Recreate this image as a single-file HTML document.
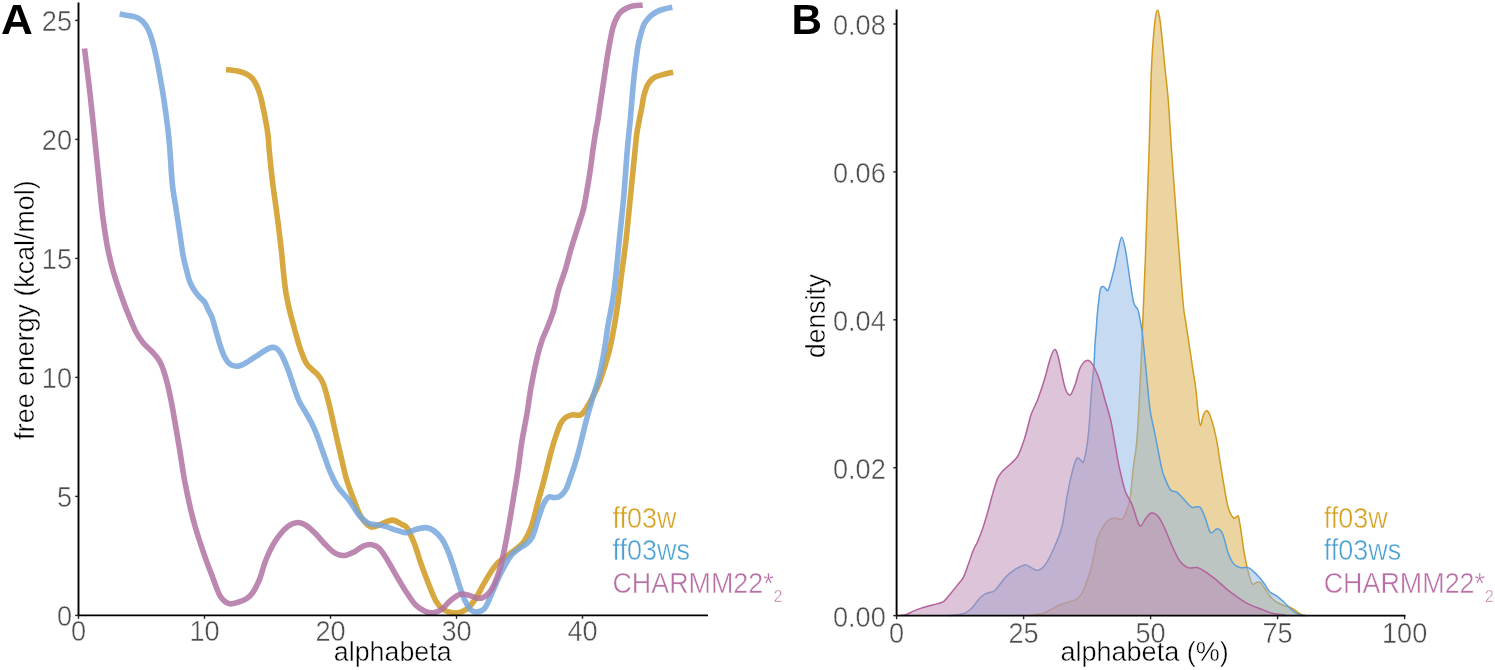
<!DOCTYPE html>
<html><head><meta charset="utf-8"><title>Free energy and density</title>
<style>html,body{margin:0;padding:0;background:#fff;width:1495px;height:670px;overflow:hidden}svg{display:block;will-change:transform}</style>
</head><body>
<svg width="1495" height="670" viewBox="0 0 1495 670">
<rect width="1495" height="670" fill="#ffffff"/>
<path d="M226.0,69.6 C227.9,69.8 234.0,70.3 237.4,71.0 C240.8,71.7 243.9,72.7 246.4,73.9 C248.9,75.1 250.6,76.4 252.3,78.4 C254.0,80.4 255.4,82.8 256.8,85.8 C258.2,88.8 259.4,92.3 260.5,96.3 C261.6,100.3 262.6,105.5 263.5,109.7 C264.4,113.9 265.1,117.4 265.8,121.6 C266.6,125.8 267.4,130.4 268.0,135.1 C268.6,139.8 268.5,142.5 269.2,150.0 C269.9,157.5 271.3,171.3 272.3,180.0 C273.3,188.7 274.3,194.8 275.3,202.2 C276.3,209.6 277.3,216.6 278.3,224.6 C279.3,232.6 280.4,242.0 281.3,250.0 C282.2,258.0 282.8,265.4 283.5,272.4 C284.2,279.4 284.9,286.1 285.8,291.8 C286.7,297.5 287.6,301.7 288.7,306.7 C289.8,311.7 291.2,316.9 292.5,321.6 C293.8,326.3 294.8,330.4 296.2,335.1 C297.6,339.8 298.9,345.2 300.7,350.0 C302.4,354.8 304.7,360.6 306.7,363.9 C308.7,367.2 310.6,367.9 312.6,369.9 C314.6,371.9 316.9,373.6 318.6,375.8 C320.4,378.0 321.7,380.1 323.1,383.3 C324.5,386.5 325.7,391.2 326.8,395.2 C327.9,399.2 328.7,402.5 329.8,407.2 C330.9,411.9 332.4,418.6 333.5,423.6 C334.6,428.6 335.1,430.9 336.5,437.0 C337.9,443.1 340.1,452.8 341.8,459.9 C343.5,467.0 344.6,472.7 346.6,479.5 C348.7,486.3 351.7,494.3 354.1,500.6 C356.6,506.9 358.5,512.9 361.3,517.3 C364.1,521.7 367.6,525.6 370.8,526.8 C374.0,528.0 376.8,525.5 380.4,524.4 C384.0,523.3 388.7,520.1 392.3,520.1 C395.9,520.1 399.3,523.1 401.8,524.4 C404.3,525.7 405.1,524.9 407.2,528.1 C409.3,531.3 411.9,537.4 414.3,543.6 C416.7,549.8 419.1,558.3 421.5,565.1 C423.9,571.9 426.3,578.2 428.7,584.2 C431.1,590.2 433.4,596.7 435.8,600.9 C438.2,605.1 440.2,607.3 443.0,609.3 C445.8,611.3 449.3,612.4 452.5,612.8 C455.7,613.2 459.3,612.6 462.1,611.6 C464.9,610.6 466.9,609.3 469.3,606.9 C471.7,604.5 474.0,601.1 476.4,597.3 C478.8,593.5 481.2,588.4 483.6,584.2 C486.0,580.0 488.3,575.8 490.7,572.2 C493.1,568.6 495.1,565.5 497.9,562.7 C500.7,559.9 504.3,557.9 507.5,555.5 C510.7,553.1 514.2,550.8 517.0,548.4 C519.8,546.0 521.8,544.8 524.2,541.2 C526.6,537.6 528.9,533.8 531.3,526.9 C533.7,520.0 536.5,507.2 538.5,500.0 C540.5,492.8 541.6,489.0 543.0,483.9 C544.4,478.8 545.4,474.4 546.6,469.6 C547.8,464.8 549.0,459.7 550.2,455.2 C551.4,450.7 552.5,446.6 553.7,442.7 C554.9,438.8 556.1,435.2 557.3,431.9 C558.5,428.6 559.5,425.4 560.9,423.0 C562.2,420.6 563.6,419.0 565.4,417.6 C567.2,416.2 569.1,415.3 571.6,414.9 C574.1,414.4 578.2,415.9 580.6,414.9 C583.0,413.9 583.9,411.8 586.0,408.7 C588.1,405.6 590.7,400.9 593.1,396.1 C595.5,391.3 597.6,387.6 600.3,380.0 C603.0,372.4 606.9,359.8 609.3,350.7 C611.6,341.6 612.9,333.8 614.4,325.4 C615.9,316.9 617.1,308.7 618.3,300.0 C619.5,291.3 620.4,283.2 621.7,273.1 C623.0,263.0 624.6,252.6 626.1,239.5 C627.6,226.4 629.1,209.7 630.6,194.8 C632.1,179.9 634.1,160.1 635.1,150.0 C636.1,139.9 636.0,139.6 636.7,134.3 C637.5,129.0 638.8,122.5 639.6,118.0 C640.5,113.5 641.1,111.0 641.8,107.5 C642.5,104.0 642.9,100.0 643.6,96.7 C644.4,93.4 645.2,90.3 646.3,87.8 C647.3,85.3 648.4,83.3 649.9,81.5 C651.4,79.7 652.8,78.2 655.2,77.0 C657.6,75.8 661.2,75.1 664.2,74.3 C667.2,73.5 671.6,72.6 673.1,72.3" fill="none" stroke="#cf991d" stroke-width="5.6" stroke-opacity="0.85" stroke-linejoin="round" stroke-linecap="butt"/>

<path d="M119.6,14.1 C122.2,14.6 131.5,15.7 135.3,16.9 C139.1,18.1 140.3,19.1 142.5,21.3 C144.7,23.5 146.6,26.1 148.4,29.9 C150.2,33.7 151.8,39.2 153.2,44.2 C154.6,49.2 155.6,53.9 156.8,59.7 C158.0,65.5 159.2,72.0 160.4,78.8 C161.6,85.6 162.8,92.3 164.0,100.3 C165.2,108.3 166.6,118.3 167.6,126.6 C168.6,134.9 169.1,140.4 169.9,150.0 C170.7,159.6 171.3,174.3 172.3,183.9 C173.3,193.5 174.7,199.9 175.9,207.8 C177.1,215.8 178.3,223.7 179.5,231.6 C180.7,239.5 181.9,249.1 183.1,255.5 C184.3,261.9 185.4,265.8 186.5,270.0 C187.6,274.2 188.3,277.8 189.5,281.0 C190.7,284.2 192.0,286.5 193.5,289.0 C195.0,291.5 196.8,293.9 198.6,296.1 C200.4,298.3 203.1,300.0 204.6,302.1 C206.1,304.2 206.5,306.4 207.8,309.0 C209.1,311.6 210.9,314.3 212.2,317.9 C213.5,321.5 214.6,326.2 215.8,330.4 C217.0,334.6 218.1,338.8 219.4,343.0 C220.8,347.2 222.2,352.1 223.9,355.5 C225.6,358.9 227.2,361.8 229.3,363.6 C231.4,365.4 234.0,366.2 236.4,366.3 C238.8,366.4 240.8,365.5 244.0,363.9 C247.2,362.2 251.7,359.0 255.9,356.4 C260.1,353.8 265.9,349.6 269.3,348.2 C272.7,346.8 274.1,347.2 276.1,348.2 C278.1,349.2 279.7,351.6 281.3,354.2 C282.9,356.8 284.3,360.3 285.8,363.9 C287.3,367.5 288.7,371.6 290.2,375.8 C291.7,380.0 293.2,385.1 294.7,389.3 C296.2,393.5 297.4,397.5 299.2,401.2 C300.9,404.9 303.2,408.1 305.2,411.6 C307.2,415.1 309.1,418.1 311.1,422.1 C313.1,426.1 315.5,431.4 317.1,435.5 C318.7,439.6 319.2,441.6 320.9,446.4 C322.6,451.2 325.8,460.1 327.3,464.4 C328.9,468.6 328.5,468.2 330.2,471.9 C331.9,475.5 334.2,481.5 337.4,486.3 C340.6,491.1 345.7,495.8 349.3,500.6 C352.9,505.4 355.7,511.1 358.9,514.9 C362.1,518.7 364.4,521.4 368.4,523.2 C372.4,525.0 377.9,524.4 382.7,525.6 C387.5,526.8 393.1,529.2 397.1,530.4 C401.1,531.6 403.4,533.0 406.6,532.8 C409.8,532.6 413.0,530.1 416.2,529.2 C419.4,528.3 422.8,527.4 425.7,527.6 C428.6,527.8 430.7,528.5 433.4,530.4 C436.1,532.3 439.4,535.4 441.8,538.8 C444.2,542.2 445.8,545.9 447.8,550.7 C449.8,555.5 451.7,561.5 453.7,567.5 C455.7,573.5 457.7,580.8 459.7,586.6 C461.7,592.4 463.7,598.1 465.7,602.1 C467.7,606.1 469.4,608.8 471.6,610.4 C473.8,612.0 476.6,612.0 478.8,611.6 C481.0,611.2 482.8,610.7 484.8,608.1 C486.8,605.5 488.5,600.9 490.7,596.1 C492.9,591.3 495.5,584.6 497.9,579.4 C500.3,574.2 502.7,569.3 505.1,565.1 C507.5,560.9 509.8,557.1 512.2,554.3 C514.6,551.5 517.0,550.2 519.4,548.4 C521.8,546.6 524.4,545.6 526.6,543.6 C528.8,541.6 530.6,540.3 532.5,536.4 C534.4,532.5 536.8,523.5 537.9,520.0 C539.0,516.5 538.6,517.7 539.4,515.5 C540.1,513.3 541.4,509.1 542.4,506.6 C543.4,504.1 544.3,502.2 545.4,500.6 C546.5,499.0 547.6,497.4 549.1,496.9 C550.6,496.4 552.4,497.7 554.3,497.6 C556.2,497.5 558.3,497.6 560.3,496.1 C562.3,494.6 564.6,491.9 566.3,488.7 C568.0,485.5 569.2,480.9 570.7,476.7 C572.2,472.5 573.8,467.8 575.2,463.3 C576.6,458.8 577.8,454.6 579.0,449.9 C580.2,445.2 581.5,439.9 582.7,434.9 C583.9,429.9 584.9,425.6 586.4,420.0 C587.9,414.4 589.5,408.7 591.6,401.4 C593.7,394.1 597.1,384.6 599.2,376.1 C601.3,367.7 602.7,359.1 604.2,350.7 C605.7,342.2 606.6,333.8 608.0,325.4 C609.4,316.9 611.4,308.7 612.7,300.0 C614.1,291.3 615.0,283.2 616.1,273.1 C617.2,263.0 618.1,252.6 619.4,239.5 C620.7,226.4 622.6,209.7 623.9,194.8 C625.2,179.9 626.2,162.8 627.3,150.0 C628.4,137.2 629.5,128.1 630.4,118.0 C631.3,107.9 632.1,97.3 632.8,89.6 C633.5,81.9 634.0,77.0 634.6,71.6 C635.2,66.2 635.8,61.8 636.4,57.3 C637.0,52.8 637.5,48.7 638.2,44.8 C639.0,40.9 640.0,37.3 640.9,34.0 C641.8,30.7 642.5,27.5 643.6,25.1 C644.7,22.7 645.9,21.4 647.2,19.7 C648.5,18.0 650.0,16.6 651.6,15.2 C653.2,13.8 654.9,12.6 657.0,11.6 C659.1,10.6 661.7,9.7 664.2,9.0 C666.8,8.3 670.9,7.5 672.3,7.2" fill="none" stroke="#77a7de" stroke-width="5.6" stroke-opacity="0.85" stroke-linejoin="round" stroke-linecap="butt"/>

<path d="M84.5,48.5 C85.5,56.5 88.4,79.4 90.3,96.3 C92.2,113.2 94.4,135.4 95.9,150.0 C97.4,164.6 98.4,174.3 99.3,183.6 C100.2,192.9 100.7,198.5 101.5,206.0 C102.3,213.5 103.3,220.9 104.4,228.4 C105.5,235.9 106.6,243.3 108.2,250.8 C109.8,258.3 111.4,265.0 113.8,273.2 C116.2,281.4 120.3,292.9 122.8,300.0 C125.3,307.1 126.8,310.7 129.0,316.1 C131.2,321.5 133.7,327.7 136.1,332.2 C138.5,336.7 140.6,339.7 143.3,343.0 C146.0,346.3 149.5,348.9 152.2,351.9 C154.9,354.9 157.4,357.6 159.4,360.9 C161.4,364.2 162.6,367.7 163.9,371.6 C165.2,375.5 166.3,379.4 167.5,384.2 C168.7,389.0 169.8,394.3 171.0,400.3 C172.2,406.3 173.2,411.7 174.6,420.0 C176.0,428.3 178.0,439.9 179.7,450.0 C181.4,460.1 182.7,470.4 184.6,480.5 C186.5,490.6 188.9,502.0 191.0,510.9 C193.1,519.8 195.0,526.2 197.3,533.8 C199.6,541.4 202.4,549.4 204.9,556.6 C207.4,563.8 210.0,570.4 212.5,576.9 C215.0,583.4 217.3,591.4 220.1,595.9 C222.8,600.4 226.0,602.5 229.0,603.6 C232.0,604.7 234.9,603.1 237.9,602.3 C240.9,601.4 244.3,600.2 246.8,598.5 C249.3,596.8 251.0,595.3 253.1,592.1 C255.2,588.9 257.4,584.7 259.5,579.4 C261.6,574.1 263.2,566.6 265.8,560.2 C268.4,553.8 271.7,546.7 275.3,541.1 C278.9,535.5 283.5,529.9 287.3,526.8 C291.1,523.7 294.8,522.7 298.0,522.5 C301.2,522.3 303.4,523.7 306.4,525.6 C309.4,527.5 312.7,530.8 315.9,534.0 C319.1,537.2 322.3,541.5 325.5,544.7 C328.7,547.9 331.8,551.3 335.0,553.1 C338.2,554.9 341.4,555.7 344.6,555.5 C347.8,555.3 350.9,553.5 354.1,551.9 C357.3,550.3 360.7,547.1 363.7,545.9 C366.7,544.7 369.4,544.3 372.0,544.7 C374.6,545.1 376.6,545.7 379.2,548.3 C381.8,550.9 384.5,555.4 387.5,560.2 C390.5,565.0 393.9,571.5 397.1,576.9 C400.3,582.3 403.4,587.7 406.6,592.5 C409.8,597.3 413.0,602.4 416.2,605.6 C419.4,608.8 422.8,610.4 425.7,611.6 C428.6,612.8 430.7,613.2 433.4,612.8 C436.1,612.4 439.0,611.3 441.8,609.3 C444.6,607.3 447.1,603.4 450.1,600.9 C453.1,598.4 456.7,595.4 459.7,594.4 C462.7,593.4 465.3,594.3 468.1,594.9 C470.9,595.5 474.0,597.5 476.4,598.0 C478.8,598.5 480.4,598.5 482.4,597.8 C484.4,597.1 486.4,596.0 488.4,593.7 C490.4,591.4 492.3,588.6 494.3,584.2 C496.3,579.8 498.5,573.9 500.3,567.5 C502.1,561.1 503.5,554.0 505.1,546.0 C506.7,538.0 508.3,528.9 509.9,519.7 C511.5,510.5 513.2,499.3 514.6,491.0 C516.0,482.7 516.8,478.2 518.0,470.0 C519.2,461.8 520.3,451.3 521.8,442.0 C523.3,432.7 525.3,423.4 526.9,414.1 C528.5,404.8 529.5,395.7 531.2,386.2 C532.9,376.7 535.5,364.6 537.3,356.9 C539.1,349.2 540.3,345.3 542.1,340.1 C543.9,334.9 546.1,331.0 548.1,325.8 C550.1,320.6 552.3,314.9 554.0,309.1 C555.7,303.3 556.3,297.5 558.2,290.9 C560.1,284.3 563.2,276.6 565.4,269.4 C567.6,262.2 569.3,254.7 571.3,247.9 C573.3,241.1 575.3,235.2 577.3,228.8 C579.3,222.4 581.7,216.1 583.3,209.7 C584.9,203.3 585.7,197.4 586.9,190.6 C588.1,183.8 589.4,175.9 590.4,169.1 C591.4,162.3 592.0,156.5 592.9,150.0 C593.8,143.5 595.2,135.0 596.0,130.0 C596.8,125.0 597.3,123.8 597.9,120.0 C598.5,116.2 599.0,112.6 599.7,107.5 C600.5,102.4 601.5,95.6 602.4,89.6 C603.3,83.6 604.2,77.6 605.1,71.6 C606.0,65.6 606.9,59.1 607.8,53.7 C608.7,48.3 609.5,43.9 610.4,39.4 C611.3,34.9 612.0,30.5 613.1,26.9 C614.2,23.3 615.4,20.4 616.7,17.9 C618.1,15.3 619.6,13.2 621.2,11.6 C622.9,10.0 624.5,9.1 626.6,8.1 C628.7,7.1 631.0,6.2 633.7,5.7 C636.4,5.2 641.2,5.3 642.7,5.2" fill="none" stroke="#b072a2" stroke-width="5.6" stroke-opacity="0.85" stroke-linejoin="round" stroke-linecap="butt"/>

<g stroke="#000" stroke-width="1.9" fill="none">
<path d="M78.5,2.5 V615.4 H708"/>
</g><g stroke="#222" stroke-width="1.4" fill="none">
<path d="M75.2,615.4 H78.5"/>
<path d="M75.2,496.4 H78.5"/>
<path d="M75.2,377.4 H78.5"/>
<path d="M75.2,258.4 H78.5"/>
<path d="M75.2,139.4 H78.5"/>
<path d="M75.2,20.4 H78.5"/>
<path d="M78.5,615.4 V618.8"/>
<path d="M204.5,615.4 V618.8"/>
<path d="M330.5,615.4 V618.8"/>
<path d="M456.5,615.4 V618.8"/>
<path d="M582.5,615.4 V618.8"/>
</g>
<g font-family="'Liberation Sans', sans-serif" stroke="#fff" stroke-width="0.45">
<text transform="translate(72.0,625.7) scale(0.950,1)" font-size="28.60" fill="#4d4d4d" text-anchor="end" >0</text>
<text transform="translate(72.0,506.7) scale(0.950,1)" font-size="28.60" fill="#4d4d4d" text-anchor="end" >5</text>
<text transform="translate(72.0,387.7) scale(0.950,1)" font-size="28.60" fill="#4d4d4d" text-anchor="end" >10</text>
<text transform="translate(72.0,268.7) scale(0.950,1)" font-size="28.60" fill="#4d4d4d" text-anchor="end" >15</text>
<text transform="translate(72.0,149.7) scale(0.950,1)" font-size="28.60" fill="#4d4d4d" text-anchor="end" >20</text>
<text transform="translate(72.0,30.7) scale(0.950,1)" font-size="28.60" fill="#4d4d4d" text-anchor="end" >25</text>
<text transform="translate(78.5,641.0) scale(0.950,1)" font-size="28.60" fill="#4d4d4d" text-anchor="middle" >0</text>
<text transform="translate(204.5,641.0) scale(0.950,1)" font-size="28.60" fill="#4d4d4d" text-anchor="middle" >10</text>
<text transform="translate(330.5,641.0) scale(0.950,1)" font-size="28.60" fill="#4d4d4d" text-anchor="middle" >20</text>
<text transform="translate(456.5,641.0) scale(0.950,1)" font-size="28.60" fill="#4d4d4d" text-anchor="middle" >30</text>
<text transform="translate(582.5,641.0) scale(0.950,1)" font-size="28.60" fill="#4d4d4d" text-anchor="middle" >40</text>
<text transform="translate(392.7,660.5) scale(0.972,1)" font-size="27.60" fill="#000" text-anchor="middle" >alphabeta</text>
<text transform="translate(33.7,310.0) rotate(-90) scale(0.972,1)" font-size="27.60" fill="#000" text-anchor="middle" >free energy (kcal/mol)</text>
</g>
<text font-family="'Liberation Sans', sans-serif" font-size="43" font-weight="bold" fill="#000" transform="translate(1.1,33.6) scale(1.025,1)">A</text>
<g font-family="'Liberation Sans', sans-serif" stroke="#fff" stroke-width="0.45"><text transform="translate(612.4,527.8) scale(0.945,1)" font-size="28.60" fill="#d4a01e" text-anchor="start" >ff03w</text><text transform="translate(612.4,559.9) scale(0.945,1)" font-size="28.60" fill="#4ba0d2" text-anchor="start" >ff03ws</text><text transform="translate(612.4,592.5) scale(0.940,1)" font-size="28.60" fill="#b96ea5" text-anchor="start" >CHARMM22*<tspan font-size="16.5" dy="9.5">2</tspan></text></g>
<path d="M1030.0,615.5 C1030.9,615.4 1033.0,615.0 1035.2,614.6 C1037.4,614.2 1040.2,614.4 1043.3,613.3 C1046.4,612.2 1051.3,609.3 1054.0,607.9 C1056.7,606.5 1056.7,606.1 1059.4,605.0 C1062.1,603.9 1067.3,602.4 1070.1,601.5 C1072.9,600.6 1074.3,600.8 1076.1,599.7 C1077.9,598.6 1079.5,596.9 1080.9,594.9 C1082.3,592.9 1083.2,590.5 1084.4,587.7 C1085.6,584.9 1086.8,581.8 1088.0,578.2 C1089.2,574.6 1090.5,570.7 1091.6,566.3 C1092.7,561.9 1093.7,556.3 1094.6,551.9 C1095.5,547.5 1096.1,543.3 1097.0,540.0 C1097.9,536.7 1098.8,534.8 1100.0,532.2 C1101.2,529.6 1103.0,526.6 1104.5,524.5 C1106.0,522.4 1107.3,520.7 1109.0,519.6 C1110.7,518.5 1112.7,518.2 1114.9,518.1 C1117.1,518.0 1120.4,520.4 1122.4,519.0 C1124.4,517.6 1125.7,513.2 1126.9,509.9 C1128.2,506.6 1129.0,504.4 1129.9,499.4 C1130.8,494.4 1131.5,485.2 1132.1,480.0 C1132.6,474.8 1132.5,474.1 1133.2,468.0 C1134.0,461.9 1135.7,452.9 1136.6,443.1 C1137.5,433.4 1138.1,422.6 1138.8,409.5 C1139.5,396.4 1140.3,381.2 1141.0,364.8 C1141.7,348.4 1142.5,329.0 1143.2,311.1 C1143.9,293.2 1144.7,275.3 1145.4,257.4 C1146.1,239.5 1146.6,221.6 1147.2,203.7 C1147.8,185.8 1148.6,165.6 1149.1,150.0 C1149.6,134.4 1149.8,123.8 1150.2,110.0 C1150.6,96.2 1150.9,79.9 1151.5,67.2 C1152.1,54.5 1153.0,42.0 1153.7,33.6 C1154.4,25.2 1154.9,20.9 1155.5,17.0 C1156.1,13.1 1156.8,10.1 1157.5,10.1 C1158.2,10.1 1158.8,13.1 1159.5,17.0 C1160.2,20.9 1160.7,25.2 1161.6,33.6 C1162.5,42.0 1163.8,56.0 1164.9,67.2 C1166.0,78.4 1167.2,86.9 1168.3,100.7 C1169.4,114.5 1170.3,132.8 1171.5,150.0 C1172.7,167.2 1174.1,185.8 1175.4,203.7 C1176.7,221.6 1178.2,240.5 1179.5,257.4 C1180.8,274.3 1182.2,294.2 1183.3,305.0 C1184.3,315.8 1184.8,315.8 1185.8,322.4 C1186.8,329.0 1188.1,337.3 1189.2,344.8 C1190.3,352.3 1191.4,359.8 1192.5,367.2 C1193.6,374.6 1195.0,382.1 1195.9,389.5 C1196.8,396.9 1197.3,405.9 1198.1,411.9 C1198.8,417.9 1199.5,425.0 1200.4,425.4 C1201.3,425.8 1202.6,416.6 1203.7,414.2 C1204.8,411.8 1206.0,410.4 1207.1,410.8 C1208.2,411.2 1209.3,413.6 1210.4,416.4 C1211.5,419.2 1212.7,423.1 1213.8,427.6 C1214.9,432.1 1216.2,437.7 1217.2,443.3 C1218.2,448.9 1218.9,454.4 1220.0,461.5 C1221.1,468.6 1222.7,478.1 1224.0,485.7 C1225.3,493.3 1226.5,501.8 1228.1,507.2 C1229.7,512.6 1231.8,516.4 1233.4,517.9 C1235.0,519.4 1236.6,516.0 1237.5,516.0 C1238.4,516.0 1238.1,514.9 1238.8,517.9 C1239.5,520.9 1240.6,528.2 1241.5,534.0 C1242.4,539.8 1243.1,546.5 1244.2,552.8 C1245.3,559.1 1246.9,566.5 1248.2,571.6 C1249.5,576.8 1250.9,581.9 1252.2,583.7 C1253.5,585.5 1255.0,582.6 1256.3,582.4 C1257.6,582.2 1259.0,581.5 1260.3,582.4 C1261.6,583.3 1262.7,585.6 1264.3,587.8 C1265.9,590.0 1267.9,593.6 1269.7,595.8 C1271.5,598.0 1272.9,599.6 1275.1,601.2 C1277.3,602.8 1280.4,604.1 1283.1,605.2 C1285.8,606.3 1288.5,606.5 1291.2,607.9 C1293.9,609.2 1297.5,612.2 1299.3,613.3 C1301.1,614.4 1300.9,614.2 1302.0,614.6 C1303.1,615.0 1305.3,615.4 1306.0,615.5 L1306.0,615.5 L1030.0,615.5 Z" fill="#d7a941" fill-opacity="0.50" stroke="none"/>
<path d="M1030.0,615.5 C1030.9,615.4 1033.0,615.0 1035.2,614.6 C1037.4,614.2 1040.2,614.4 1043.3,613.3 C1046.4,612.2 1051.3,609.3 1054.0,607.9 C1056.7,606.5 1056.7,606.1 1059.4,605.0 C1062.1,603.9 1067.3,602.4 1070.1,601.5 C1072.9,600.6 1074.3,600.8 1076.1,599.7 C1077.9,598.6 1079.5,596.9 1080.9,594.9 C1082.3,592.9 1083.2,590.5 1084.4,587.7 C1085.6,584.9 1086.8,581.8 1088.0,578.2 C1089.2,574.6 1090.5,570.7 1091.6,566.3 C1092.7,561.9 1093.7,556.3 1094.6,551.9 C1095.5,547.5 1096.1,543.3 1097.0,540.0 C1097.9,536.7 1098.8,534.8 1100.0,532.2 C1101.2,529.6 1103.0,526.6 1104.5,524.5 C1106.0,522.4 1107.3,520.7 1109.0,519.6 C1110.7,518.5 1112.7,518.2 1114.9,518.1 C1117.1,518.0 1120.4,520.4 1122.4,519.0 C1124.4,517.6 1125.7,513.2 1126.9,509.9 C1128.2,506.6 1129.0,504.4 1129.9,499.4 C1130.8,494.4 1131.5,485.2 1132.1,480.0 C1132.6,474.8 1132.5,474.1 1133.2,468.0 C1134.0,461.9 1135.7,452.9 1136.6,443.1 C1137.5,433.4 1138.1,422.6 1138.8,409.5 C1139.5,396.4 1140.3,381.2 1141.0,364.8 C1141.7,348.4 1142.5,329.0 1143.2,311.1 C1143.9,293.2 1144.7,275.3 1145.4,257.4 C1146.1,239.5 1146.6,221.6 1147.2,203.7 C1147.8,185.8 1148.6,165.6 1149.1,150.0 C1149.6,134.4 1149.8,123.8 1150.2,110.0 C1150.6,96.2 1150.9,79.9 1151.5,67.2 C1152.1,54.5 1153.0,42.0 1153.7,33.6 C1154.4,25.2 1154.9,20.9 1155.5,17.0 C1156.1,13.1 1156.8,10.1 1157.5,10.1 C1158.2,10.1 1158.8,13.1 1159.5,17.0 C1160.2,20.9 1160.7,25.2 1161.6,33.6 C1162.5,42.0 1163.8,56.0 1164.9,67.2 C1166.0,78.4 1167.2,86.9 1168.3,100.7 C1169.4,114.5 1170.3,132.8 1171.5,150.0 C1172.7,167.2 1174.1,185.8 1175.4,203.7 C1176.7,221.6 1178.2,240.5 1179.5,257.4 C1180.8,274.3 1182.2,294.2 1183.3,305.0 C1184.3,315.8 1184.8,315.8 1185.8,322.4 C1186.8,329.0 1188.1,337.3 1189.2,344.8 C1190.3,352.3 1191.4,359.8 1192.5,367.2 C1193.6,374.6 1195.0,382.1 1195.9,389.5 C1196.8,396.9 1197.3,405.9 1198.1,411.9 C1198.8,417.9 1199.5,425.0 1200.4,425.4 C1201.3,425.8 1202.6,416.6 1203.7,414.2 C1204.8,411.8 1206.0,410.4 1207.1,410.8 C1208.2,411.2 1209.3,413.6 1210.4,416.4 C1211.5,419.2 1212.7,423.1 1213.8,427.6 C1214.9,432.1 1216.2,437.7 1217.2,443.3 C1218.2,448.9 1218.9,454.4 1220.0,461.5 C1221.1,468.6 1222.7,478.1 1224.0,485.7 C1225.3,493.3 1226.5,501.8 1228.1,507.2 C1229.7,512.6 1231.8,516.4 1233.4,517.9 C1235.0,519.4 1236.6,516.0 1237.5,516.0 C1238.4,516.0 1238.1,514.9 1238.8,517.9 C1239.5,520.9 1240.6,528.2 1241.5,534.0 C1242.4,539.8 1243.1,546.5 1244.2,552.8 C1245.3,559.1 1246.9,566.5 1248.2,571.6 C1249.5,576.8 1250.9,581.9 1252.2,583.7 C1253.5,585.5 1255.0,582.6 1256.3,582.4 C1257.6,582.2 1259.0,581.5 1260.3,582.4 C1261.6,583.3 1262.7,585.6 1264.3,587.8 C1265.9,590.0 1267.9,593.6 1269.7,595.8 C1271.5,598.0 1272.9,599.6 1275.1,601.2 C1277.3,602.8 1280.4,604.1 1283.1,605.2 C1285.8,606.3 1288.5,606.5 1291.2,607.9 C1293.9,609.2 1297.5,612.2 1299.3,613.3 C1301.1,614.4 1300.9,614.2 1302.0,614.6 C1303.1,615.0 1305.3,615.4 1306.0,615.5" fill="none" stroke="#d29b1c" stroke-width="1.5" stroke-linejoin="round"/>

<path d="M948.0,615.5 C948.8,615.5 951.0,615.4 952.7,615.3 C954.4,615.2 956.0,615.1 958.1,614.7 C960.2,614.3 962.9,614.1 965.3,612.9 C967.7,611.7 970.3,609.6 972.4,607.5 C974.5,605.4 976.0,602.5 977.8,600.4 C979.6,598.3 981.2,596.4 983.2,595.0 C985.2,593.6 988.0,593.0 990.0,592.3 C992.0,591.5 992.3,593.0 994.9,590.5 C997.5,588.0 1002.6,580.4 1005.7,577.0 C1008.8,573.6 1010.6,572.3 1013.7,570.3 C1016.8,568.3 1021.6,565.3 1024.5,564.9 C1027.4,564.5 1029.0,566.7 1031.2,567.6 C1033.4,568.5 1035.4,571.0 1037.9,570.3 C1040.4,569.6 1043.1,567.9 1046.0,563.6 C1048.9,559.4 1052.7,551.1 1055.4,544.8 C1058.1,538.5 1060.1,534.5 1062.1,526.0 C1064.1,517.5 1065.7,503.1 1067.5,493.7 C1069.3,484.3 1071.2,475.5 1072.8,469.6 C1074.4,463.7 1075.6,459.9 1076.9,458.3 C1078.2,456.7 1079.8,459.7 1080.9,460.2 C1082.0,460.7 1082.5,464.4 1083.6,461.5 C1084.7,458.6 1086.3,449.9 1087.3,443.1 C1088.3,436.3 1088.8,430.0 1089.5,420.7 C1090.2,411.4 1091.0,396.5 1091.8,387.2 C1092.5,377.9 1093.5,372.3 1094.0,364.8 C1094.5,357.3 1094.7,348.2 1095.1,342.4 C1095.5,336.6 1095.8,335.1 1096.2,329.9 C1096.6,324.7 1096.9,317.8 1097.6,311.1 C1098.3,304.4 1099.4,293.7 1100.3,289.6 C1101.2,285.5 1102.1,286.6 1103.0,286.4 C1103.9,286.2 1104.6,288.0 1105.5,288.5 C1106.4,289.0 1106.9,292.6 1108.3,289.6 C1109.7,286.7 1112.1,277.1 1113.7,270.8 C1115.3,264.5 1116.4,257.6 1117.7,252.0 C1119.0,246.4 1120.4,237.2 1121.7,237.2 C1123.0,237.2 1124.5,245.1 1125.8,252.0 C1127.1,258.9 1128.5,270.4 1129.8,278.9 C1131.1,287.4 1132.4,297.9 1133.8,303.0 C1135.2,308.1 1136.8,306.6 1137.9,309.7 C1139.0,312.8 1139.8,318.4 1140.5,321.8 C1141.2,325.2 1141.4,326.5 1141.9,329.9 C1142.4,333.3 1142.5,334.7 1143.3,342.4 C1144.1,350.1 1145.5,364.8 1146.6,376.0 C1147.7,387.2 1148.7,400.2 1150.0,409.5 C1151.3,418.8 1153.0,424.4 1154.5,431.9 C1156.0,439.4 1157.8,448.6 1158.9,454.3 C1160.0,460.0 1160.4,462.6 1161.2,466.0 C1162.0,469.4 1162.1,470.9 1163.6,474.9 C1165.1,478.8 1168.1,486.8 1170.3,489.7 C1172.5,492.6 1174.8,490.8 1177.0,492.4 C1179.2,494.0 1181.2,496.6 1183.7,499.1 C1186.2,501.6 1189.1,505.9 1191.8,507.2 C1194.5,508.5 1197.7,505.4 1199.9,507.2 C1202.1,509.0 1203.4,513.6 1205.2,517.9 C1207.0,522.1 1208.6,530.9 1210.6,532.7 C1212.6,534.5 1215.3,528.5 1217.3,528.7 C1219.3,528.9 1220.9,530.0 1222.7,534.0 C1224.5,538.0 1226.3,547.9 1228.1,552.8 C1229.9,557.7 1231.4,561.1 1233.4,563.6 C1235.4,566.1 1237.7,566.9 1240.2,567.6 C1242.7,568.3 1246.0,566.9 1248.2,567.6 C1250.4,568.3 1251.8,570.0 1253.6,571.6 C1255.4,573.2 1257.2,575.0 1259.0,577.0 C1260.8,579.0 1262.5,581.2 1264.3,583.7 C1266.1,586.2 1267.7,589.8 1269.7,591.8 C1271.7,593.8 1274.2,594.2 1276.4,595.8 C1278.6,597.4 1280.6,599.0 1283.1,601.2 C1285.6,603.5 1289.0,607.3 1291.2,609.3 C1293.5,611.3 1294.8,612.3 1296.6,613.3 C1298.4,614.3 1300.6,614.8 1302.0,615.2 C1303.4,615.6 1304.5,615.5 1305.0,615.5 L1305.0,615.5 L948.0,615.5 Z" fill="#8db5e3" fill-opacity="0.50" stroke="none"/>
<path d="M948.0,615.5 C948.8,615.5 951.0,615.4 952.7,615.3 C954.4,615.2 956.0,615.1 958.1,614.7 C960.2,614.3 962.9,614.1 965.3,612.9 C967.7,611.7 970.3,609.6 972.4,607.5 C974.5,605.4 976.0,602.5 977.8,600.4 C979.6,598.3 981.2,596.4 983.2,595.0 C985.2,593.6 988.0,593.0 990.0,592.3 C992.0,591.5 992.3,593.0 994.9,590.5 C997.5,588.0 1002.6,580.4 1005.7,577.0 C1008.8,573.6 1010.6,572.3 1013.7,570.3 C1016.8,568.3 1021.6,565.3 1024.5,564.9 C1027.4,564.5 1029.0,566.7 1031.2,567.6 C1033.4,568.5 1035.4,571.0 1037.9,570.3 C1040.4,569.6 1043.1,567.9 1046.0,563.6 C1048.9,559.4 1052.7,551.1 1055.4,544.8 C1058.1,538.5 1060.1,534.5 1062.1,526.0 C1064.1,517.5 1065.7,503.1 1067.5,493.7 C1069.3,484.3 1071.2,475.5 1072.8,469.6 C1074.4,463.7 1075.6,459.9 1076.9,458.3 C1078.2,456.7 1079.8,459.7 1080.9,460.2 C1082.0,460.7 1082.5,464.4 1083.6,461.5 C1084.7,458.6 1086.3,449.9 1087.3,443.1 C1088.3,436.3 1088.8,430.0 1089.5,420.7 C1090.2,411.4 1091.0,396.5 1091.8,387.2 C1092.5,377.9 1093.5,372.3 1094.0,364.8 C1094.5,357.3 1094.7,348.2 1095.1,342.4 C1095.5,336.6 1095.8,335.1 1096.2,329.9 C1096.6,324.7 1096.9,317.8 1097.6,311.1 C1098.3,304.4 1099.4,293.7 1100.3,289.6 C1101.2,285.5 1102.1,286.6 1103.0,286.4 C1103.9,286.2 1104.6,288.0 1105.5,288.5 C1106.4,289.0 1106.9,292.6 1108.3,289.6 C1109.7,286.7 1112.1,277.1 1113.7,270.8 C1115.3,264.5 1116.4,257.6 1117.7,252.0 C1119.0,246.4 1120.4,237.2 1121.7,237.2 C1123.0,237.2 1124.5,245.1 1125.8,252.0 C1127.1,258.9 1128.5,270.4 1129.8,278.9 C1131.1,287.4 1132.4,297.9 1133.8,303.0 C1135.2,308.1 1136.8,306.6 1137.9,309.7 C1139.0,312.8 1139.8,318.4 1140.5,321.8 C1141.2,325.2 1141.4,326.5 1141.9,329.9 C1142.4,333.3 1142.5,334.7 1143.3,342.4 C1144.1,350.1 1145.5,364.8 1146.6,376.0 C1147.7,387.2 1148.7,400.2 1150.0,409.5 C1151.3,418.8 1153.0,424.4 1154.5,431.9 C1156.0,439.4 1157.8,448.6 1158.9,454.3 C1160.0,460.0 1160.4,462.6 1161.2,466.0 C1162.0,469.4 1162.1,470.9 1163.6,474.9 C1165.1,478.8 1168.1,486.8 1170.3,489.7 C1172.5,492.6 1174.8,490.8 1177.0,492.4 C1179.2,494.0 1181.2,496.6 1183.7,499.1 C1186.2,501.6 1189.1,505.9 1191.8,507.2 C1194.5,508.5 1197.7,505.4 1199.9,507.2 C1202.1,509.0 1203.4,513.6 1205.2,517.9 C1207.0,522.1 1208.6,530.9 1210.6,532.7 C1212.6,534.5 1215.3,528.5 1217.3,528.7 C1219.3,528.9 1220.9,530.0 1222.7,534.0 C1224.5,538.0 1226.3,547.9 1228.1,552.8 C1229.9,557.7 1231.4,561.1 1233.4,563.6 C1235.4,566.1 1237.7,566.9 1240.2,567.6 C1242.7,568.3 1246.0,566.9 1248.2,567.6 C1250.4,568.3 1251.8,570.0 1253.6,571.6 C1255.4,573.2 1257.2,575.0 1259.0,577.0 C1260.8,579.0 1262.5,581.2 1264.3,583.7 C1266.1,586.2 1267.7,589.8 1269.7,591.8 C1271.7,593.8 1274.2,594.2 1276.4,595.8 C1278.6,597.4 1280.6,599.0 1283.1,601.2 C1285.6,603.5 1289.0,607.3 1291.2,609.3 C1293.5,611.3 1294.8,612.3 1296.6,613.3 C1298.4,614.3 1300.6,614.8 1302.0,615.2 C1303.4,615.6 1304.5,615.5 1305.0,615.5" fill="none" stroke="#5a9fda" stroke-width="1.5" stroke-linejoin="round"/>

<path d="M900.0,615.5 C900.6,615.4 902.2,615.2 903.4,615.0 C904.6,614.8 905.4,614.9 907.0,614.3 C908.6,613.6 911.0,612.1 913.3,611.1 C915.5,610.1 917.8,609.3 920.5,608.4 C923.2,607.5 926.7,606.5 929.4,605.7 C932.1,605.0 934.2,604.6 936.6,603.9 C939.0,603.2 941.4,603.1 943.8,601.3 C946.2,599.5 948.5,596.1 950.9,593.2 C953.3,590.4 956.0,586.9 958.1,584.2 C960.2,581.5 961.7,580.7 963.5,577.1 C965.3,573.5 967.3,567.2 968.9,562.7 C970.5,558.2 971.8,553.8 973.3,550.2 C974.8,546.6 976.1,545.1 977.8,541.2 C979.4,537.3 981.4,532.2 983.2,526.9 C985.0,521.6 986.8,515.2 988.4,509.6 C990.0,504.0 991.3,498.5 992.8,493.4 C994.3,488.3 995.8,482.7 997.3,479.1 C998.8,475.5 999.4,474.6 1001.8,471.9 C1004.2,469.2 1008.9,465.7 1011.6,463.0 C1014.3,460.3 1015.8,459.7 1017.9,455.8 C1020.0,451.9 1022.2,445.7 1024.2,439.7 C1026.2,433.7 1028.4,424.3 1029.6,420.0 C1030.8,415.7 1029.9,417.6 1031.3,414.0 C1032.7,410.4 1035.8,404.4 1038.1,398.4 C1040.3,392.4 1042.8,384.9 1044.8,378.2 C1046.8,371.5 1048.8,362.9 1050.4,358.1 C1052.0,353.3 1053.1,350.0 1054.4,349.6 C1055.7,349.2 1056.2,349.7 1058.0,356.0 C1059.8,362.3 1062.9,380.7 1064.9,387.2 C1066.9,393.7 1068.4,395.4 1070.1,395.0 C1071.8,394.6 1073.2,389.6 1075.0,384.9 C1076.8,380.2 1078.4,371.1 1080.6,367.0 C1082.8,362.9 1085.8,360.3 1088.0,360.3 C1090.2,360.3 1092.1,363.6 1094.0,367.0 C1095.9,370.4 1097.7,374.8 1099.6,380.4 C1101.5,386.0 1103.3,393.9 1105.2,400.6 C1107.1,407.3 1109.1,413.2 1110.8,420.7 C1112.5,428.2 1113.9,437.7 1115.3,445.4 C1116.7,453.1 1117.5,459.4 1119.2,467.0 C1120.9,474.6 1123.1,484.8 1125.2,491.0 C1127.3,497.2 1130.0,499.6 1132.0,504.5 C1134.0,509.4 1135.8,517.0 1137.3,520.6 C1138.8,524.2 1139.2,526.5 1140.7,526.0 C1142.2,525.5 1144.3,520.0 1146.1,517.9 C1147.9,515.8 1149.5,513.3 1151.5,513.1 C1153.5,512.9 1156.0,514.0 1158.2,516.6 C1160.4,519.2 1162.7,524.0 1164.9,528.7 C1167.1,533.4 1169.1,539.4 1171.6,544.8 C1174.1,550.2 1177.0,557.1 1179.7,560.9 C1182.4,564.7 1184.9,566.5 1187.8,567.6 C1190.7,568.7 1194.3,566.9 1197.2,567.6 C1200.1,568.3 1202.1,569.6 1205.2,571.6 C1208.3,573.6 1212.4,576.8 1216.0,579.7 C1219.6,582.6 1223.1,586.2 1226.7,589.1 C1230.3,592.0 1233.9,594.7 1237.5,597.2 C1241.1,599.7 1244.2,601.9 1248.2,603.9 C1252.2,605.9 1257.6,607.7 1261.6,609.3 C1265.6,610.9 1269.2,612.4 1272.4,613.3 C1275.6,614.2 1278.2,614.2 1280.5,614.6 C1282.8,615.0 1285.1,615.4 1286.0,615.5 L1286.0,615.5 L900.0,615.5 Z" fill="#bd89b1" fill-opacity="0.50" stroke="none"/>
<path d="M900.0,615.5 C900.6,615.4 902.2,615.2 903.4,615.0 C904.6,614.8 905.4,614.9 907.0,614.3 C908.6,613.6 911.0,612.1 913.3,611.1 C915.5,610.1 917.8,609.3 920.5,608.4 C923.2,607.5 926.7,606.5 929.4,605.7 C932.1,605.0 934.2,604.6 936.6,603.9 C939.0,603.2 941.4,603.1 943.8,601.3 C946.2,599.5 948.5,596.1 950.9,593.2 C953.3,590.4 956.0,586.9 958.1,584.2 C960.2,581.5 961.7,580.7 963.5,577.1 C965.3,573.5 967.3,567.2 968.9,562.7 C970.5,558.2 971.8,553.8 973.3,550.2 C974.8,546.6 976.1,545.1 977.8,541.2 C979.4,537.3 981.4,532.2 983.2,526.9 C985.0,521.6 986.8,515.2 988.4,509.6 C990.0,504.0 991.3,498.5 992.8,493.4 C994.3,488.3 995.8,482.7 997.3,479.1 C998.8,475.5 999.4,474.6 1001.8,471.9 C1004.2,469.2 1008.9,465.7 1011.6,463.0 C1014.3,460.3 1015.8,459.7 1017.9,455.8 C1020.0,451.9 1022.2,445.7 1024.2,439.7 C1026.2,433.7 1028.4,424.3 1029.6,420.0 C1030.8,415.7 1029.9,417.6 1031.3,414.0 C1032.7,410.4 1035.8,404.4 1038.1,398.4 C1040.3,392.4 1042.8,384.9 1044.8,378.2 C1046.8,371.5 1048.8,362.9 1050.4,358.1 C1052.0,353.3 1053.1,350.0 1054.4,349.6 C1055.7,349.2 1056.2,349.7 1058.0,356.0 C1059.8,362.3 1062.9,380.7 1064.9,387.2 C1066.9,393.7 1068.4,395.4 1070.1,395.0 C1071.8,394.6 1073.2,389.6 1075.0,384.9 C1076.8,380.2 1078.4,371.1 1080.6,367.0 C1082.8,362.9 1085.8,360.3 1088.0,360.3 C1090.2,360.3 1092.1,363.6 1094.0,367.0 C1095.9,370.4 1097.7,374.8 1099.6,380.4 C1101.5,386.0 1103.3,393.9 1105.2,400.6 C1107.1,407.3 1109.1,413.2 1110.8,420.7 C1112.5,428.2 1113.9,437.7 1115.3,445.4 C1116.7,453.1 1117.5,459.4 1119.2,467.0 C1120.9,474.6 1123.1,484.8 1125.2,491.0 C1127.3,497.2 1130.0,499.6 1132.0,504.5 C1134.0,509.4 1135.8,517.0 1137.3,520.6 C1138.8,524.2 1139.2,526.5 1140.7,526.0 C1142.2,525.5 1144.3,520.0 1146.1,517.9 C1147.9,515.8 1149.5,513.3 1151.5,513.1 C1153.5,512.9 1156.0,514.0 1158.2,516.6 C1160.4,519.2 1162.7,524.0 1164.9,528.7 C1167.1,533.4 1169.1,539.4 1171.6,544.8 C1174.1,550.2 1177.0,557.1 1179.7,560.9 C1182.4,564.7 1184.9,566.5 1187.8,567.6 C1190.7,568.7 1194.3,566.9 1197.2,567.6 C1200.1,568.3 1202.1,569.6 1205.2,571.6 C1208.3,573.6 1212.4,576.8 1216.0,579.7 C1219.6,582.6 1223.1,586.2 1226.7,589.1 C1230.3,592.0 1233.9,594.7 1237.5,597.2 C1241.1,599.7 1244.2,601.9 1248.2,603.9 C1252.2,605.9 1257.6,607.7 1261.6,609.3 C1265.6,610.9 1269.2,612.4 1272.4,613.3 C1275.6,614.2 1278.2,614.2 1280.5,614.6 C1282.8,615.0 1285.1,615.4 1286.0,615.5" fill="none" stroke="#b4629e" stroke-width="1.5" stroke-linejoin="round"/>

<g stroke="#000" stroke-width="1.9" fill="none">
<path d="M896.6,9.5 V615.6 H1405.5"/>
</g><g stroke="#222" stroke-width="1.4" fill="none">
<path d="M893.3,615.6 H896.6"/>
<path d="M893.3,467.7 H896.6"/>
<path d="M893.3,319.8 H896.6"/>
<path d="M893.3,171.9 H896.6"/>
<path d="M893.3,24.0 H896.6"/>
<path d="M896.6,615.6 V619.2"/>
<path d="M1023.6,615.6 V619.2"/>
<path d="M1150.6,615.6 V619.2"/>
<path d="M1277.6,615.6 V619.2"/>
<path d="M1404.6,615.6 V619.2"/>
</g>
<g font-family="'Liberation Sans', sans-serif" stroke="#fff" stroke-width="0.45">
<text transform="translate(885.8,626.6) scale(0.950,1)" font-size="28.60" fill="#4d4d4d" text-anchor="end" >0.00</text>
<text transform="translate(885.8,478.7) scale(0.950,1)" font-size="28.60" fill="#4d4d4d" text-anchor="end" >0.02</text>
<text transform="translate(885.8,330.8) scale(0.950,1)" font-size="28.60" fill="#4d4d4d" text-anchor="end" >0.04</text>
<text transform="translate(885.8,182.9) scale(0.950,1)" font-size="28.60" fill="#4d4d4d" text-anchor="end" >0.06</text>
<text transform="translate(885.8,35.0) scale(0.950,1)" font-size="28.60" fill="#4d4d4d" text-anchor="end" >0.08</text>
<text transform="translate(896.6,643.0) scale(0.950,1)" font-size="28.60" fill="#4d4d4d" text-anchor="middle" >0</text>
<text transform="translate(1023.6,643.0) scale(0.950,1)" font-size="28.60" fill="#4d4d4d" text-anchor="middle" >25</text>
<text transform="translate(1150.6,643.0) scale(0.950,1)" font-size="28.60" fill="#4d4d4d" text-anchor="middle" >50</text>
<text transform="translate(1277.6,643.0) scale(0.950,1)" font-size="28.60" fill="#4d4d4d" text-anchor="middle" >75</text>
<text transform="translate(1404.6,643.0) scale(0.950,1)" font-size="28.60" fill="#4d4d4d" text-anchor="middle" >100</text>
<text transform="translate(1144.6,660.8) scale(0.980,1)" font-size="27.60" fill="#000" text-anchor="middle" >alphabeta (%)</text>
<text transform="translate(824.5,316.0) rotate(-90) scale(0.960,1)" font-size="27.60" fill="#000" text-anchor="middle" >density</text>
</g>
<text font-family="'Liberation Sans', sans-serif" font-size="43" font-weight="bold" fill="#000" transform="translate(791.5,33.6) scale(0.98,1)">B</text>
<g font-family="'Liberation Sans', sans-serif" stroke="#fff" stroke-width="0.45"><text transform="translate(1323.7,527.8) scale(0.945,1)" font-size="28.60" fill="#d4a01e" text-anchor="start" >ff03w</text><text transform="translate(1323.7,559.9) scale(0.945,1)" font-size="28.60" fill="#4ba0d2" text-anchor="start" >ff03ws</text><text transform="translate(1323.7,592.5) scale(0.940,1)" font-size="28.60" fill="#b96ea5" text-anchor="start" >CHARMM22*<tspan font-size="16.5" dy="9.5">2</tspan></text></g>
</svg>
</body></html>
